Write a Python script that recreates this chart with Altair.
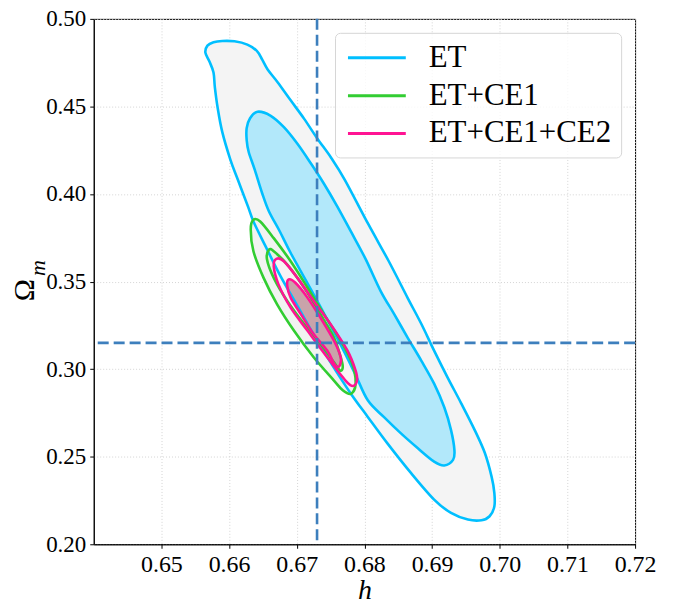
import altair as alt
import pandas as pd

# ---- axis ticks / reference values ----
x_ticks = [0.65, 0.66, 0.67, 0.68, 0.69, 0.70, 0.71, 0.72]
y_ticks = [0.20, 0.25, 0.30, 0.35, 0.40, 0.45, 0.50]
h_true = 0.673
om_true = 0.315

series_names = ["ET", "ET+CE1", "ET+CE1+CE2"]
series_colors = ["#00bfff", "#32cd32", "#ff1493"]

# ---- contour outlines (h, Omega_m) ----
et_outer_h = [0.6565, 0.6568, 0.6577, 0.6590, 0.6608, 0.6627, 0.6641, 0.6649, 0.6657, 0.6672,
              0.6691, 0.6711, 0.6730, 0.6751, 0.6771, 0.6806, 0.6836, 0.6864, 0.6884, 0.6903,
              0.6923, 0.6943, 0.6963, 0.6978, 0.6988, 0.6992, 0.6992, 0.6985, 0.6973, 0.6953,
              0.6928, 0.6903, 0.6869, 0.6834, 0.6805, 0.6780, 0.6752, 0.6726, 0.6701, 0.6676,
              0.6654, 0.6636, 0.6628, 0.6613, 0.6602, 0.6590, 0.6583, 0.6579, 0.6577, 0.6571]
et_outer_om = [0.4807, 0.4847, 0.4867, 0.4874, 0.4872, 0.4853, 0.4817, 0.4767, 0.4711, 0.4637,
               0.4535, 0.4429, 0.4319, 0.4206, 0.4081, 0.3826, 0.3616, 0.3406, 0.3259, 0.3106,
               0.2952, 0.2805, 0.2652, 0.2521, 0.2385, 0.2294, 0.2215, 0.2160, 0.2137, 0.2141,
               0.2179, 0.2255, 0.2406, 0.2576, 0.2727, 0.2860, 0.3026, 0.3191, 0.3361, 0.3531,
               0.3701, 0.3843, 0.3928, 0.4081, 0.4195, 0.4353, 0.4495, 0.4609, 0.4694, 0.4756]

et_inner_h = [0.6642, 0.6661, 0.6681, 0.6701, 0.6721, 0.6740, 0.6760, 0.6780, 0.6802, 0.6824,
              0.6844, 0.6864, 0.6884, 0.6903, 0.6918, 0.6928, 0.6933, 0.6931, 0.6918, 0.6903,
              0.6879, 0.6854, 0.6829, 0.6805, 0.6786, 0.6764, 0.6728, 0.6692, 0.6675, 0.6659,
              0.6649, 0.6638, 0.6629, 0.6626, 0.6626, 0.6631]
et_inner_om = [0.4470, 0.4448, 0.4382, 0.4287, 0.4174, 0.4060, 0.3928, 0.3786, 0.3627, 0.3446,
               0.3314, 0.3179, 0.3049, 0.2917, 0.2782, 0.2652, 0.2538, 0.2482, 0.2450, 0.2472,
               0.2548, 0.2633, 0.2726, 0.2822, 0.2975, 0.3145, 0.3406, 0.3656, 0.3786, 0.3900,
               0.4003, 0.4138, 0.4240, 0.4308, 0.4376, 0.4433]

ce1_outer_h = [0.6636, 0.6646, 0.6666, 0.6691, 0.6716, 0.6740, 0.6765, 0.6782, 0.6787, 0.6780,
               0.6768, 0.6755, 0.6725, 0.6696, 0.6671, 0.6651, 0.6636, 0.6632]
ce1_outer_om = [0.3853, 0.3843, 0.3748, 0.3616, 0.3465, 0.3314, 0.3162, 0.3030, 0.2917, 0.2859,
                0.2879, 0.2935, 0.3068, 0.3219, 0.3370, 0.3521, 0.3673, 0.3798]

ce1_inner_h = [0.6659, 0.6666, 0.6686, 0.6711, 0.6735, 0.6755, 0.6765, 0.6768, 0.6764, 0.6755,
               0.6735, 0.6711, 0.6686, 0.6666, 0.6656]
ce1_inner_om = [0.3682, 0.3673, 0.3597, 0.3465, 0.3314, 0.3181, 0.3068, 0.3011, 0.2992, 0.3039,
                0.3144, 0.3257, 0.3389, 0.3521, 0.3627]

ce2_outer_h = [0.6670, 0.6681, 0.6701, 0.6725, 0.6750, 0.6775, 0.6787, 0.6789, 0.6783, 0.6772,
               0.6745, 0.6716, 0.6691, 0.6673, 0.6666]
ce2_outer_om = [0.3630, 0.3616, 0.3521, 0.3389, 0.3257, 0.3106, 0.2992, 0.2935, 0.2904, 0.2935,
                0.3068, 0.3219, 0.3351, 0.3484, 0.3588]

ce2_inner_h = [0.6688, 0.6698, 0.6716, 0.6735, 0.6755, 0.6765, 0.6764, 0.6760, 0.6755, 0.6745,
               0.6725, 0.6706, 0.6691, 0.6686]
ce2_inner_om = [0.3512, 0.3493, 0.3408, 0.3294, 0.3162, 0.3068, 0.3026, 0.3012, 0.3032, 0.3106,
                0.3200, 0.3314, 0.3408, 0.3474]

contours = [
    ("ET", et_outer_h, et_outer_om, "#f4f4f4"),
    ("ET", et_inner_h, et_inner_om, "#b2e8fa"),
    ("ET+CE1", ce1_outer_h, ce1_outer_om, "#f1f3f1"),
    ("ET+CE1", ce1_inner_h, ce1_inner_om, "#e4f1e4"),
    ("ET+CE1+CE2", ce2_outer_h, ce2_outer_om, "#f8f3f5"),
    ("ET+CE1+CE2", ce2_inner_h, ce2_inner_om, "#c9a3aa"),
]

FONT = "Liberation Serif, DejaVu Serif, serif"

x_enc = alt.X("h:Q",
              scale=alt.Scale(domain=[0.64, 0.72], nice=False, zero=False),
              axis=alt.Axis(values=x_ticks, format=".2f", title="h", titleFont=FONT,
                            titleFontStyle="italic", titleFontWeight="normal",
                            titleFontSize=28, titlePadding=0, labelFlush=False,
                            labelOverlap=False, labelFont=FONT, labelFontSize=24))
y_enc = alt.Y("om:Q",
              scale=alt.Scale(domain=[0.20, 0.50], nice=False, zero=False),
              axis=alt.Axis(values=y_ticks, format=".2f", title=None, labelFlush=False,
                            labelOverlap=False, labelFont=FONT, labelFontSize=23))

stroke_scale = alt.Scale(domain=series_names, range=series_colors)
legend = alt.Legend(orient="none", legendX=242, legendY=14, title=None, direction="vertical",
                    symbolType="M-2,0H2", symbolSize=841, symbolStrokeWidth=3,
                    symbolOffset=17, labelOffset=36, labelFont=FONT, labelFontSize=31,
                    labelColor="black", labelLimit=400, rowPadding=7, padding=9,
                    fillColor="rgba(255,255,255,0.8)", strokeColor="#d6d6d6",
                    cornerRadius=5)

fills = []
lines = []
for name, hs, oms, fc in contours:
    df = pd.DataFrame({"h": hs, "om": oms, "i": list(range(len(hs))), "series": name})
    fills.append(
        alt.Chart(df).mark_line(interpolate="cardinal-closed", fill=fc, strokeWidth=0)
        .encode(x=x_enc, y=y_enc, order=alt.Order("i:Q"))
    )
    lines.append(
        alt.Chart(df).mark_line(interpolate="cardinal-closed", strokeWidth=2.6)
        .encode(x=x_enc, y=y_enc, order=alt.Order("i:Q"),
                stroke=alt.Stroke("series:N", scale=stroke_scale, legend=legend))
    )

vline = alt.Chart(pd.DataFrame({"h": [h_true]})).mark_rule(
    color="#3d7fbd", strokeWidth=2.6, strokeDash=[11, 5]).encode(x=alt.X("h:Q"))
hline = alt.Chart(pd.DataFrame({"om": [om_true]})).mark_rule(
    color="#3d7fbd", strokeWidth=2.6, strokeDash=[11, 5]).encode(y=alt.Y("om:Q"))

ylab1 = alt.Chart(pd.DataFrame({"t": ["Ω"]})).mark_text(
    angle=270, font=FONT, fontSize=30, color="black", align="center", baseline="middle"
).encode(x=alt.value(-69), y=alt.value(272), text="t:N")
ylab2 = alt.Chart(pd.DataFrame({"t": ["m"]})).mark_text(
    angle=270, font=FONT, fontSize=22, fontStyle="italic", color="black",
    align="center", baseline="middle"
).encode(x=alt.value(-56), y=alt.value(250), text="t:N")

chart = alt.layer(*fills, *lines, vline, hline, ylab1, ylab2).properties(
    width=543, height=527,
    autosize=alt.AutoSizeParams(type="none"),
    padding={"left": 86, "top": 10, "right": 30, "bottom": 57},
).configure_view(stroke="black", strokeWidth=1).configure_axis(
    domainColor="black", tickColor="black", tickSize=4, labelFont=FONT, labelFontSize=24,
    labelColor="black", labelPadding=4, gridColor="#d4d4d4", gridDash=[1, 2], gridWidth=1,
    titleColor="black"
)

chart.save("out.html", embed_options={"renderer": "svg", "actions": False})
